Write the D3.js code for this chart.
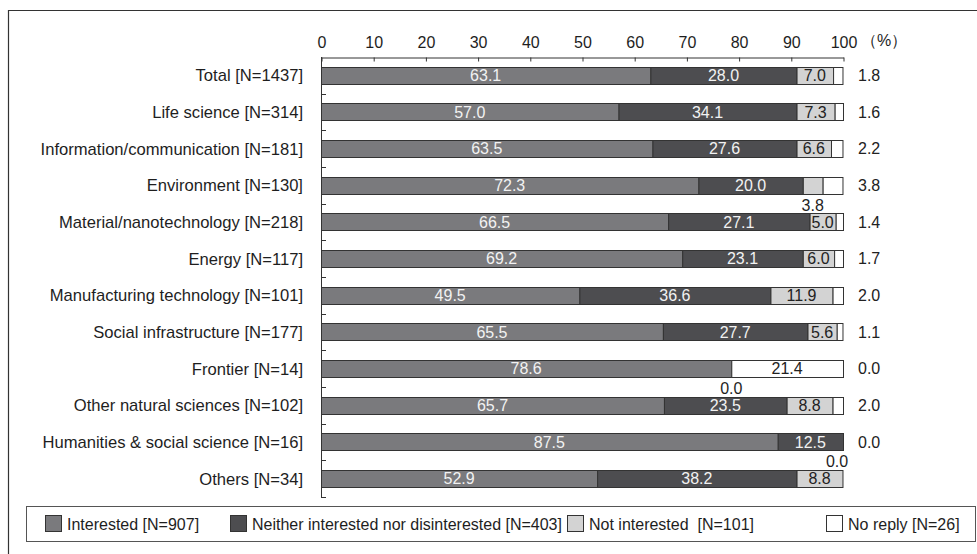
<!DOCTYPE html>
<html>
<head>
<meta charset="utf-8">
<script src="https://cdn.jsdelivr.net/npm/d3@7/dist/d3.min.js"></script>
<style>
  html, body { margin: 0; padding: 0; background: #fff; }
  svg { display: block; font-family: "Liberation Sans", Arial, Helvetica, sans-serif; }
  text { white-space: pre; }
</style>
</head>
<body>
<svg id="chart" width="977" height="554"></svg>
<script>
// Interest in the topic, by research field (percent of respondents)
const categories = [
  "Total [N=1437]",
  "Life science [N=314]",
  "Information/communication [N=181]",
  "Environment [N=130]",
  "Material/nanotechnology [N=218]",
  "Energy [N=117]",
  "Manufacturing technology [N=101]",
  "Social infrastructure [N=177]",
  "Frontier [N=14]",
  "Other natural sciences [N=102]",
  "Humanities & social science [N=16]",
  "Others [N=34]"
];
const interested    = [63.1, 57.0, 63.5, 72.3, 66.5, 69.2, 49.5, 65.5, 78.6, 65.7, 87.5, 52.9];
const neither       = [28.0, 34.1, 27.6, 20.0, 27.1, 23.1, 36.6, 27.7,  0.0, 23.5, 12.5, 38.2];
const notInterested = [ 7.0,  7.3,  6.6,  3.8,  5.0,  6.0, 11.9,  5.6, 21.4,  8.8,  0.0,  8.8];
const noReply       = [ 1.8,  1.6,  2.2,  3.8,  1.4,  1.7,  2.0,  1.1,  0.0,  2.0,  0.0, null];

const seriesNames = [
  "Interested [N=907]",
  "Neither interested nor disinterested [N=403]",
  "Not interested  [N=101]",
  "No reply [N=26]"
];
const xTicks = [0, 10, 20, 30, 40, 50, 60, 70, 80, 90, 100];

// styling
const fills = ["#7a7a7d", "#4d4d50", "#d3d3d3", "#ffffff"];
const labelFills = ["#f2f2f2", "#f2f2f2", "#222", "#222"];
const edge = "#333";
const ink = "#1e1e1e";
// segments printed without shading in the source layout
const unshaded = [["Frontier [N=14]", 2]];

const svg = d3.select("#chart");
const W = 977, H = 554;
const margin = { left: 321, right: 134, top: 57, bottom: 57 };

const x = d3.scaleLinear().domain([0, 100]).range([margin.left, W - margin.right]);
const y = d3.scaleBand().domain(categories).range([margin.top, H - margin.bottom]).paddingInner(0.53).paddingOuter(0.265);

// outer frame (top and left edges visible)
svg.append("path")
  .attr("d", `M8.5,${H} V10.5 H${W}`)
  .attr("fill", "none").attr("stroke", "#333").attr("stroke-width", 1.2);

// stacked data
const rows = categories.map((c, i) => ({
  cat: c,
  vals: [interested[i], neither[i], notInterested[i], noReply[i]]
}));

const segs = [];
rows.forEach(r => {
  let acc = 0;
  r.vals.forEach((v, k) => {
    const val = v == null ? 0 : v;
    segs.push({ cat: r.cat, k, v, x0: acc, x1: acc + val });
    acc += val;
  });
});

const isUnshaded = d => unshaded.some(([c, k]) => c === d.cat && k === d.k);

// bars
svg.append("g").selectAll("rect")
  .data(segs.filter(d => d.x1 > d.x0))
  .join("rect")
  .attr("x", d => x(d.x0) + 0.5)
  .attr("y", d => Math.round(y(d.cat)) + 0.5)
  .attr("width", d => x(d.x1) - x(d.x0))
  .attr("height", Math.round(y.bandwidth()))
  .attr("fill", d => isUnshaded(d) ? "#fff" : fills[d.k])
  .attr("stroke", edge).attr("stroke-width", 1);

// top axis
const axTop = d3.axisTop(x).tickValues(xTicks).tickSize(-4).tickPadding(10).tickSizeOuter(0);
const gTop = svg.append("g").attr("transform", `translate(0.5,${margin.top + 0.5})`).call(axTop);
gTop.select(".domain").attr("stroke", "#333");
gTop.selectAll(".tick line").attr("stroke", "#333");
gTop.selectAll(".tick text")
  .attr("font-size", 16).attr("fill", ink)
  .attr("font-family", "Liberation Sans, Arial, sans-serif");
svg.append("text")
  .attr("x", x(100) + 18).attr("y", 45.5)
  .attr("font-size", 16).attr("fill", ink)
  .text("（%）");

// left axis with inward ticks between categories
const plotBottom = H - margin.bottom;
svg.append("line")
  .attr("x1", margin.left + 0.5).attr("x2", margin.left + 0.5)
  .attr("y1", margin.top).attr("y2", plotBottom)
  .attr("stroke", "#333");
const step = y.step();
svg.append("g").selectAll("line")
  .data(categories)
  .join("line")
  .attr("x1", margin.left).attr("x2", margin.left + 5)
  .attr("y1", (d, i) => Math.round(margin.top + (i + 1) * step) + 0.5)
  .attr("y2", (d, i) => Math.round(margin.top + (i + 1) * step) + 0.5)
  .attr("stroke", "#333");

// category labels
svg.append("g").selectAll("text")
  .data(categories)
  .join("text")
  .attr("x", 303)
  .attr("y", d => y(d) + y.bandwidth() / 2)
  .attr("dy", "0.36em")
  .attr("text-anchor", "end")
  .attr("font-size", 16.6).attr("fill", ink)
  .text(d => d);

// value labels
const fmt = d3.format(".1f");
const labelled = segs.filter(d => d.v != null);
svg.append("g").selectAll("text")
  .data(labelled)
  .join("text")
  .attr("x", d => {
    if (d.k === 3) return x(100) + 15;
    const c = x((d.x0 + d.x1) / 2);
    return d.v < 4 ? Math.min(c, x(100) - 6) : c;
  })
  .attr("y", d => {
    const mid = y(d.cat) + y.bandwidth() / 2;
    if (d.k !== 3 && d.v < 4) return y(d.cat) + y.bandwidth() + 11;
    return mid;
  })
  .attr("dy", "0.36em")
  .attr("text-anchor", d => d.k === 3 ? "start" : "middle")
  .attr("font-size", 16)
  .attr("fill", d => (d.k !== 3 && d.v < 4) ? ink : labelFills[d.k])
  .text(d => fmt(d.v));

// legend
const lg = svg.append("g");
lg.append("rect")
  .attr("x", 26.5).attr("y", 506.5).attr("width", 949).attr("height", 35)
  .attr("fill", "#fff").attr("stroke", "#555");
const legX = [45, 230, 567, 826];
seriesNames.forEach((name, k) => {
  lg.append("rect")
    .attr("x", legX[k] + 0.5).attr("y", 515.5).attr("width", 16).attr("height", 16)
    .attr("fill", fills[k]).attr("stroke", edge);
  lg.append("text")
    .attr("x", legX[k] + 22).attr("y", 524)
    .attr("dy", "0.36em")
    .attr("font-size", 16).attr("fill", ink)
    .text(name);
});
</script>
</body>
</html>
